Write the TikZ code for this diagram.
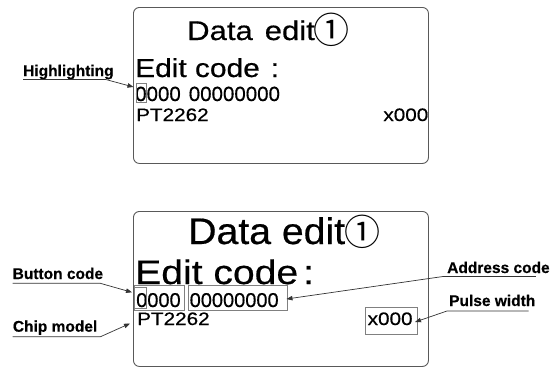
\documentclass[tikz,border=0pt]{standalone}
\usepackage{fontspec}
\setmainfont{Liberation Sans}[FakeBold=0.4]
\newfontfamily\wf{Liberation Sans}[FakeStretch=1.15,FakeBold=0.5]
\newfontfamily\wt{Liberation Sans}[FakeStretch=1.06,FakeBold=0.5]
\newfontfamily\cjk{Noto Sans CJK SC}
\usetikzlibrary{arrows.meta}
\begin{document}
\begin{tikzpicture}[x=1pt,y=-1pt,
  lcd/.style={draw=black!65, line width=0.9pt, rounded corners=6pt, inner sep=0pt, anchor=north west},
  hbox/.style={draw=black!50, line width=0.8pt, inner sep=0pt, anchor=north west},
  txt/.style={inner sep=0pt, anchor=base west},
  lab/.style={inner sep=0pt, anchor=base west, font=\fontsize{15.5}{16}\selectfont\bfseries},
  conn/.style={draw=black!80, line width=0.7pt, -{Triangle[length=6pt,width=4.5pt]}},
]
\useasboundingbox (0,0) rectangle (557,368);
% screens
\node[lcd, minimum width=295pt, minimum height=156pt] (s1) at (133,7) {};
\node[lcd, minimum width=295pt, minimum height=155pt] (s2) at (133,211) {};
% top screen
\node[txt, font=\wf\fontsize{27}{27}\selectfont] (t1) at (187,40) {Data\hspace{12pt}edit\hspace{-1pt}\raisebox{-3pt}{\cjk\fontsize{36}{36}\selectfont ①}};
\node[txt, font=\wf\fontsize{26}{26}\selectfont] (e1) at (135,77) {Edit code\hspace{11pt}:};
\node[txt, font=\fontsize{20.5}{21}\selectfont] (c1) at (135,101) {0000\hspace{8pt}00000000};
\node[txt, font=\wf\fontsize{18}{18}\selectfont] (p1) at (136,121) {PT2262};
\node[inner sep=0pt, anchor=base east, font=\wf\fontsize{18}{18}\selectfont] (x1) at (428.5,121) {x000};
\node[hbox, minimum width=10.5pt, minimum height=19pt] (hb1) at (135.5,83) {};
\node[lab] (hl) at (23,76) {Highlighting};
\coordinate (tip1) at (133.5,87);
\draw[conn] ([yshift=-3.5pt]hl.base west) -- ([xshift=-8pt,yshift=-3.5pt]hl.base east) -- (tip1);
% bottom screen
\node[txt, font=\wt\fontsize{37}{37}\selectfont] (t2) at (188,244) {Data edit\hspace{-1pt}\raisebox{-1pt}{\cjk\fontsize{36}{36}\selectfont ①}};
\node[txt, font=\wf\fontsize{34}{34}\selectfont] (e2) at (135,284) {Edit code\hspace{5pt}:};
\node[txt, font=\fontsize{20}{20}\selectfont] (c2) at (136,307) {0000\hspace{9pt}00000000};
\node[txt, font=\wf\fontsize{18}{18}\selectfont] (p2) at (137,325) {PT2262};
\node[txt, font=\wf\fontsize{18}{18}\selectfont] (x2) at (367.5,325) {x000};
\node[hbox, minimum width=12pt, minimum height=20.7pt] (hb2) at (134.3,287.3) {};
\node[hbox, minimum width=50pt, minimum height=25.3pt] (bb) at (134,284.7) {};
\node[hbox, minimum width=98.8pt, minimum height=25pt] (ab) at (188,285) {};
\node[hbox, minimum width=51.5pt, minimum height=27pt] (pb) at (365,306.5) {};
\node[lab] (bc) at (12.5,279) {Button code};
\node[lab] (cm) at (12.7,331.7) {Chip model};
\node[lab] (ac) at (447,273) {Address code};
\node[lab] (pw) at (449,306) {Pulse width};
\coordinate (tip2) at (132,292.3);
\coordinate (tip3) at (130,323.5);
\coordinate (tip4) at (286.5,299);
\coordinate (tip5) at (415,322);
\draw[conn] ([yshift=-4.3pt]bc.base west) -- ([xshift=-3pt,yshift=-4.3pt]bc.base east) -- (tip2);
\draw[conn] ([yshift=-5pt]cm.base west) -- ([xshift=3pt,yshift=-5pt]cm.base east) -- (tip3);
\draw[conn] ([xshift=-14pt,yshift=-3.5pt]ac.base east) -- ([xshift=-4pt,yshift=-3.5pt]ac.base west) -- (tip4);
\draw[conn] ([xshift=-7pt,yshift=-5pt]pw.base east) -- ([xshift=-2pt,yshift=-5pt]pw.base west) -- (tip5);
\end{tikzpicture}
\end{document}
